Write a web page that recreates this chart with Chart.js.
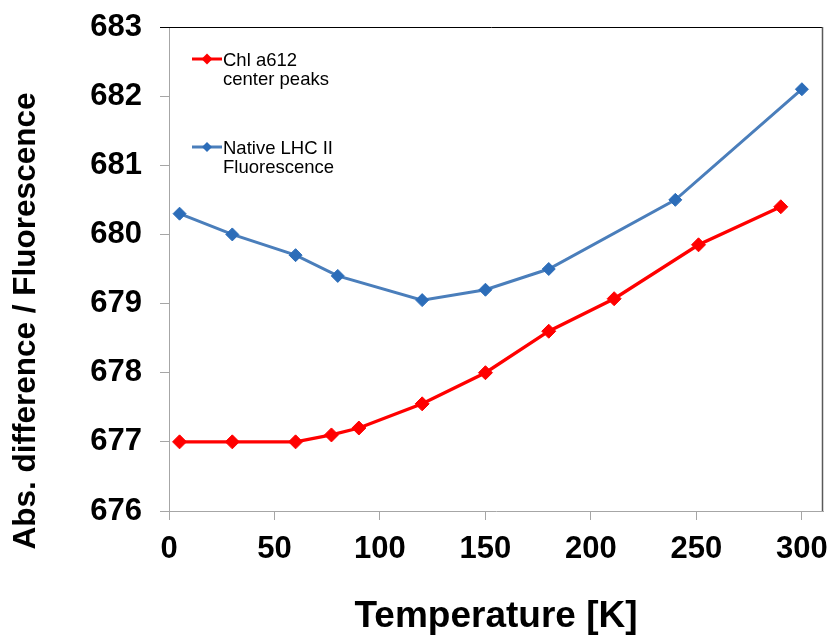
<!DOCTYPE html>
<html>
<head>
<meta charset="utf-8">
<script src="https://cdn.jsdelivr.net/npm/chart.js@4/dist/chart.umd.min.js"></script>
<style>
  html, body { margin: 0; padding: 0; background: #fff; }
  #wrap { width: 833px; height: 635px; }
</style>
</head>
<body>
<div id="wrap"><canvas id="chart"></canvas></div>
<script>
// peak positions (nm) against temperature (K)
const chlTemps = [5, 30, 60, 77, 90, 120, 150, 180, 211, 251, 290];
const chlPeaks = [677.0, 677.0, 677.0, 677.1, 677.2, 677.55, 678.0, 678.6, 679.07, 679.85, 680.4];
const lhcTemps = [5, 30, 60, 80, 120, 150, 180, 240, 300];
const lhcPeaks = [680.3, 680.0, 679.7, 679.4, 679.05, 679.2, 679.5, 680.5, 682.1];
const seriesNames = [["Chl a612", "center peaks"], ["Native LHC II", "Fluorescence"]];
const xTicks = [0, 50, 100, 150, 200, 250, 300];
const yTicks = [676, 677, 678, 679, 680, 681, 682, 683];
const yTitle = "Abs. difference / Fluorescence";

const FONT = "'Liberation Sans', Arial, sans-serif";
const AXIS_GRAY = "#A6A6A6";

const toPoints = (xs, ys) => xs.map((x, i) => ({ x: x, y: ys[i] }));

// Excel-like frame: black top edge, dark right edge
const frame = {
  id: "frame",
  afterDatasetsDraw(chart) {
    const { ctx, chartArea: a } = chart;
    ctx.save();
    ctx.lineWidth = 1;
    ctx.strokeStyle = "#000";
    ctx.beginPath();
    ctx.moveTo(a.left - 9, a.top + 0.5);
    ctx.lineTo(a.right, a.top + 0.5);
    ctx.stroke();
    ctx.strokeStyle = "#595959";
    ctx.lineWidth = 1.5;
    ctx.beginPath();
    ctx.moveTo(a.right - 0.5, a.top);
    ctx.lineTo(a.right - 0.5, a.bottom);
    ctx.stroke();
    ctx.restore();
  }
};

// vertical axis title, sitting a little below the axis middle
const sideTitle = {
  id: "sideTitle",
  afterDraw(chart) {
    const ctx = chart.ctx;
    ctx.save();
    ctx.translate(35, 321);
    ctx.rotate(-Math.PI / 2);
    ctx.font = "bold 31.5px " + FONT;
    ctx.fillStyle = "#000";
    ctx.textAlign = "center";
    ctx.textBaseline = "alphabetic";
    ctx.fillText(yTitle, 0, 0);
    ctx.restore();
  }
};

// legend with two-line labels, tucked into the top-left corner
const cornerLegend = {
  id: "cornerLegend",
  afterDraw(chart) {
    const { ctx, chartArea: a } = chart;
    const rowY = [a.top + 32, a.top + 120];
    ctx.save();
    chart.data.datasets.forEach((ds, i) => {
      const y = rowY[i];
      const x0 = a.left + 23;
      ctx.strokeStyle = ds.borderColor;
      ctx.lineWidth = 3;
      ctx.beginPath();
      ctx.moveTo(x0, y);
      ctx.lineTo(x0 + 30, y);
      ctx.stroke();
      const r = i === 0 ? 5.5 : 5;
      ctx.fillStyle = ds.pointBackgroundColor;
      ctx.beginPath();
      ctx.moveTo(x0 + 15 - r, y);
      ctx.lineTo(x0 + 15, y - r);
      ctx.lineTo(x0 + 15 + r, y);
      ctx.lineTo(x0 + 15, y + r);
      ctx.closePath();
      ctx.fill();
      ctx.fillStyle = "#000";
      ctx.font = "18.5px " + FONT;
      ctx.textBaseline = "alphabetic";
      ctx.textAlign = "left";
      seriesNames[i].forEach((line, j) => {
        ctx.fillText(line, x0 + 31, y + 6.5 + j * 19);
      });
    });
    ctx.restore();
  }
};

new Chart(document.getElementById("chart"), {
  type: "scatter",
  data: {
    datasets: [
      {
        label: seriesNames[0].join(" "),
        data: toPoints(chlTemps, chlPeaks),
        showLine: true,
        borderColor: "#FF0000",
        borderWidth: 3.3,
        pointStyle: "rectRot",
        pointRadius: 7,
        pointHoverRadius: 7,
        pointBackgroundColor: "#FF0000",
        pointBorderColor: "#FF0000",
        pointBorderWidth: 1
      },
      {
        label: seriesNames[1].join(" "),
        data: toPoints(lhcTemps, lhcPeaks),
        showLine: true,
        borderColor: "#4A7EBB",
        borderWidth: 3,
        pointStyle: "rectRot",
        pointRadius: 6.5,
        pointHoverRadius: 6.5,
        pointBackgroundColor: "#2C6DB9",
        pointBorderColor: "#2C6DB9",
        pointBorderWidth: 1
      }
    ]
  },
  options: {
    responsive: true,
    maintainAspectRatio: false,
    animation: false,
    layout: { padding: { top: 27, right: 10, left: 0, bottom: 0 } },
    plugins: {
      legend: { display: false },
      tooltip: { enabled: false }
    },
    scales: {
      x: {
        type: "linear",
        min: 0,
        max: 310,
        afterBuildTicks: (scale) => { scale.ticks = xTicks.map(v => ({ value: v })); },
        afterFit: (scale) => {
          scale.height = 124;
          scale.paddingLeft = 0;
          scale.paddingRight = 0;
        },
        grid: { drawOnChartArea: false, drawTicks: true, tickLength: 9, color: AXIS_GRAY },
        border: { color: AXIS_GRAY, width: 1 },
        ticks: { color: "#000", padding: 11, font: { family: FONT, size: 31, weight: "bold" } },
        title: {
          display: true,
          text: "Temperature [K]",
          color: "#000",
          padding: 0,
          font: { family: FONT, size: 37, weight: "bold", lineHeight: 1 }
        }
      },
      y: {
        min: 676,
        max: 683,
        afterBuildTicks: (scale) => { scale.ticks = yTicks.map(v => ({ value: v })); },
        afterFit: (scale) => {
          scale.width = 169;
          scale.paddingTop = 0;
          scale.paddingBottom = 0;
        },
        grid: { drawOnChartArea: false, drawTicks: true, tickLength: 9, color: AXIS_GRAY },
        border: { color: AXIS_GRAY, width: 1 },
        ticks: { color: "#000", padding: 18, font: { family: FONT, size: 31, weight: "bold" } },
        title: { display: false }
      }
    }
  },
  plugins: [frame, sideTitle, cornerLegend]
});
</script>
</body>
</html>
